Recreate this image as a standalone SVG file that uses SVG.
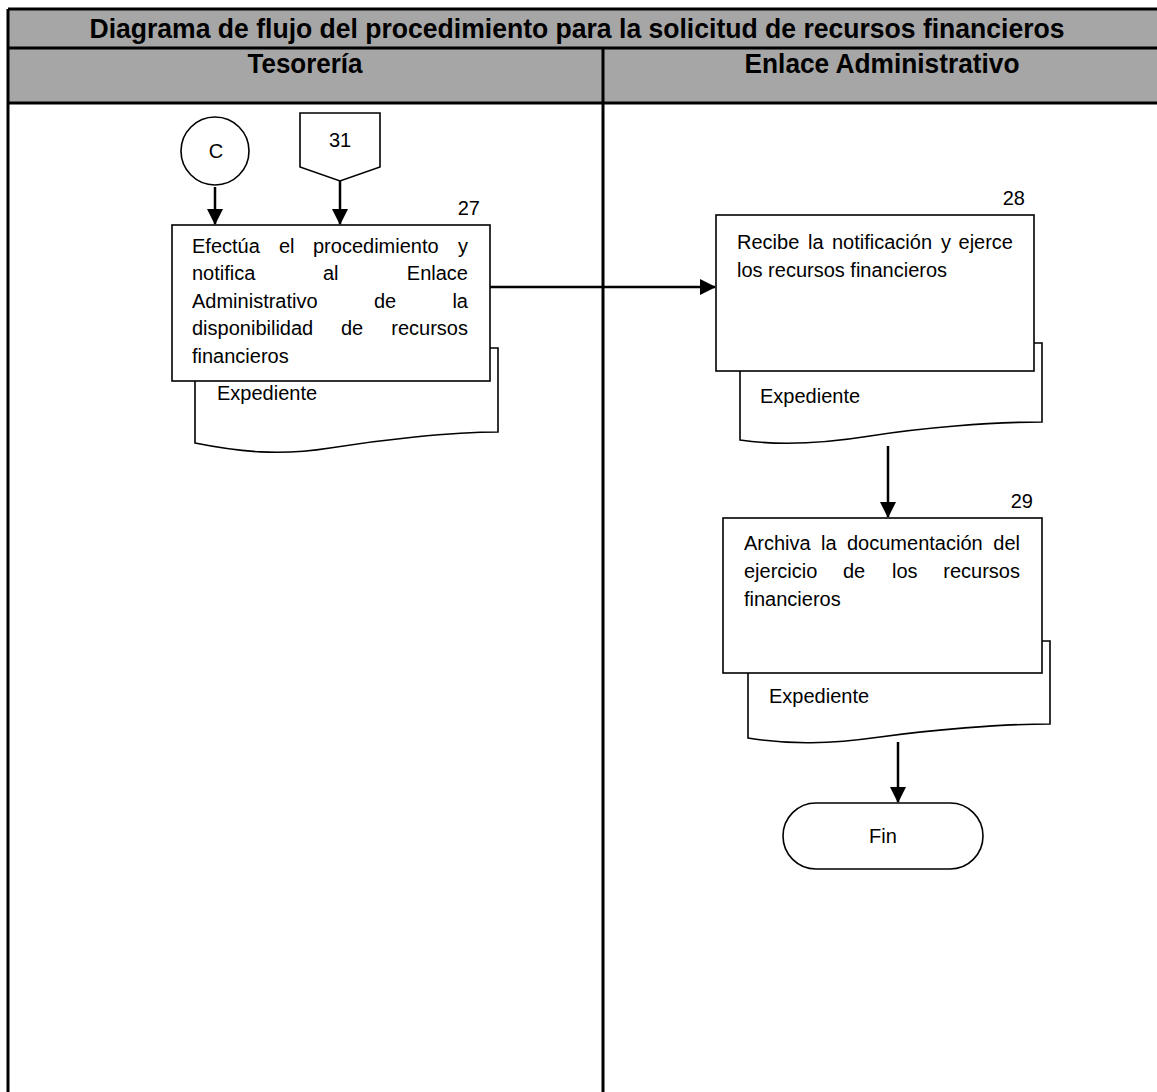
<svg xmlns="http://www.w3.org/2000/svg" width="1157" height="1092" viewBox="0 0 1157 1092">
  <style>
    .hdr { fill: #a6a6a6; }
    .grid { stroke: #000; stroke-width: 3; fill: none; }
    .shape { stroke: #000; stroke-width: 1.6; fill: #fff; }
    .conn { stroke: #000; stroke-width: 2.5; fill: none; }
    .bold { font-family: "Liberation Sans", Arial, sans-serif; font-weight: bold; font-size: 28px; fill: #000; }
    .txt { font-family: "Liberation Sans", Arial, sans-serif; font-size: 20px; fill: #000; }
  </style>
  <defs>
    <marker id="arrow" markerUnits="userSpaceOnUse" markerWidth="16" markerHeight="16" viewBox="0 0 16 16" refX="15" refY="8" orient="auto">
      <path d="M0,0 L16,8 L0,16 Z" fill="#000"/>
    </marker>
  </defs>

  <rect width="1157" height="1092" fill="#fff"/>

  <!-- header band -->
  <g id="header">
    <rect class="hdr" x="8" y="9" width="1149" height="94"/>
    <path class="grid" d="M8,9 H1157 M8,48 H1157 M8,103 H1157 M8,9 V1092 M603,48 V1092"/>
    <text class="bold" x="577" y="38" text-anchor="middle" textLength="975" lengthAdjust="spacingAndGlyphs">Diagrama de flujo del procedimiento para la solicitud de recursos financieros</text>
    <text class="bold" x="305" y="73" text-anchor="middle" textLength="115" lengthAdjust="spacingAndGlyphs">Tesorería</text>
    <text class="bold" x="882" y="73" text-anchor="middle" textLength="275" lengthAdjust="spacingAndGlyphs">Enlace Administrativo</text>
  </g>

  <!-- connectors -->
  <g id="connectors">
    <path class="conn" d="M215,187 V224" marker-end="url(#arrow)"/>
    <path class="conn" d="M340,181 V224" marker-end="url(#arrow)"/>
    <path class="conn" d="M490,287 H715" marker-end="url(#arrow)"/>
    <path class="conn" d="M888,446 V517" marker-end="url(#arrow)"/>
    <path class="conn" d="M898,742 V802" marker-end="url(#arrow)"/>
  </g>

  <!-- on-page connector C -->
  <g id="conn-C">
    <circle class="shape" cx="215" cy="151" r="34"/>
    <text class="txt" x="216" y="158" text-anchor="middle">C</text>
  </g>

  <!-- off-page connector 31 -->
  <g id="offpage-31">
    <path class="shape" d="M300,113 H380 V167 L340,181 L300,167 Z"/>
    <text class="txt" x="340" y="147" text-anchor="middle">31</text>
  </g>

  <!-- step 27 -->
  <g id="step-27">
    <path class="shape" d="M195,348 H498 V432 C450,432 380,440 330,448 C280,456 240,452 195,443 Z"/>
    <text class="txt" x="217" y="400">Expediente</text>
    <rect class="shape" x="172" y="225" width="318" height="156"/>
    <text class="txt" x="480" y="215" text-anchor="end">27</text>
    <text class="txt" x="192" y="253">Efectúa</text>
    <text class="txt" x="279" y="253">el</text>
    <text class="txt" x="313" y="253">procedimiento</text>
    <text class="txt" x="468" y="253" text-anchor="end">y</text>
    <text class="txt" x="192" y="280">notifica</text>
    <text class="txt" x="323" y="280">al</text>
    <text class="txt" x="468" y="280" text-anchor="end">Enlace</text>
    <text class="txt" x="192" y="308">Administrativo</text>
    <text class="txt" x="374" y="308">de</text>
    <text class="txt" x="468" y="308" text-anchor="end">la</text>
    <text class="txt" x="192" y="335">disponibilidad</text>
    <text class="txt" x="341" y="335">de</text>
    <text class="txt" x="468" y="335" text-anchor="end">recursos</text>
    <text class="txt" x="192" y="363">financieros</text>
  </g>

  <!-- step 28 -->
  <g id="step-28">
    <path class="shape" d="M740,343 H1042 V422 C990,422 920,428 870,436 C820,444 780,446 740,440 Z"/>
    <text class="txt" x="760" y="403">Expediente</text>
    <rect class="shape" x="716" y="215" width="318" height="156"/>
    <text class="txt" x="1025" y="205" text-anchor="end">28</text>
    <text class="txt" x="737" y="249">Recibe</text>
    <text class="txt" x="808" y="249">la</text>
    <text class="txt" x="832" y="249">notificación</text>
    <text class="txt" x="941" y="249">y</text>
    <text class="txt" x="1013" y="249" text-anchor="end">ejerce</text>
    <text class="txt" x="737" y="277">los recursos financieros</text>
  </g>

  <!-- step 29 -->
  <g id="step-29">
    <path class="shape" d="M748,641 H1050 V724 C1000,724 930,730 880,737 C830,744 790,745 748,738 Z"/>
    <text class="txt" x="769" y="703">Expediente</text>
    <rect class="shape" x="723" y="518" width="319" height="155"/>
    <text class="txt" x="1033" y="508" text-anchor="end">29</text>
    <text class="txt" x="744" y="550">Archiva</text>
    <text class="txt" x="821" y="550">la</text>
    <text class="txt" x="847" y="550">documentación</text>
    <text class="txt" x="1020" y="550" text-anchor="end">del</text>
    <text class="txt" x="744" y="578">ejercicio</text>
    <text class="txt" x="843" y="578">de</text>
    <text class="txt" x="892" y="578">los</text>
    <text class="txt" x="1020" y="578" text-anchor="end">recursos</text>
    <text class="txt" x="744" y="606">financieros</text>
  </g>

  <!-- end terminator -->
  <g id="end-fin">
    <rect class="shape" x="783" y="803" width="200" height="66" rx="33" ry="33"/>
    <text class="txt" x="883" y="843" text-anchor="middle">Fin</text>
  </g>
</svg>
